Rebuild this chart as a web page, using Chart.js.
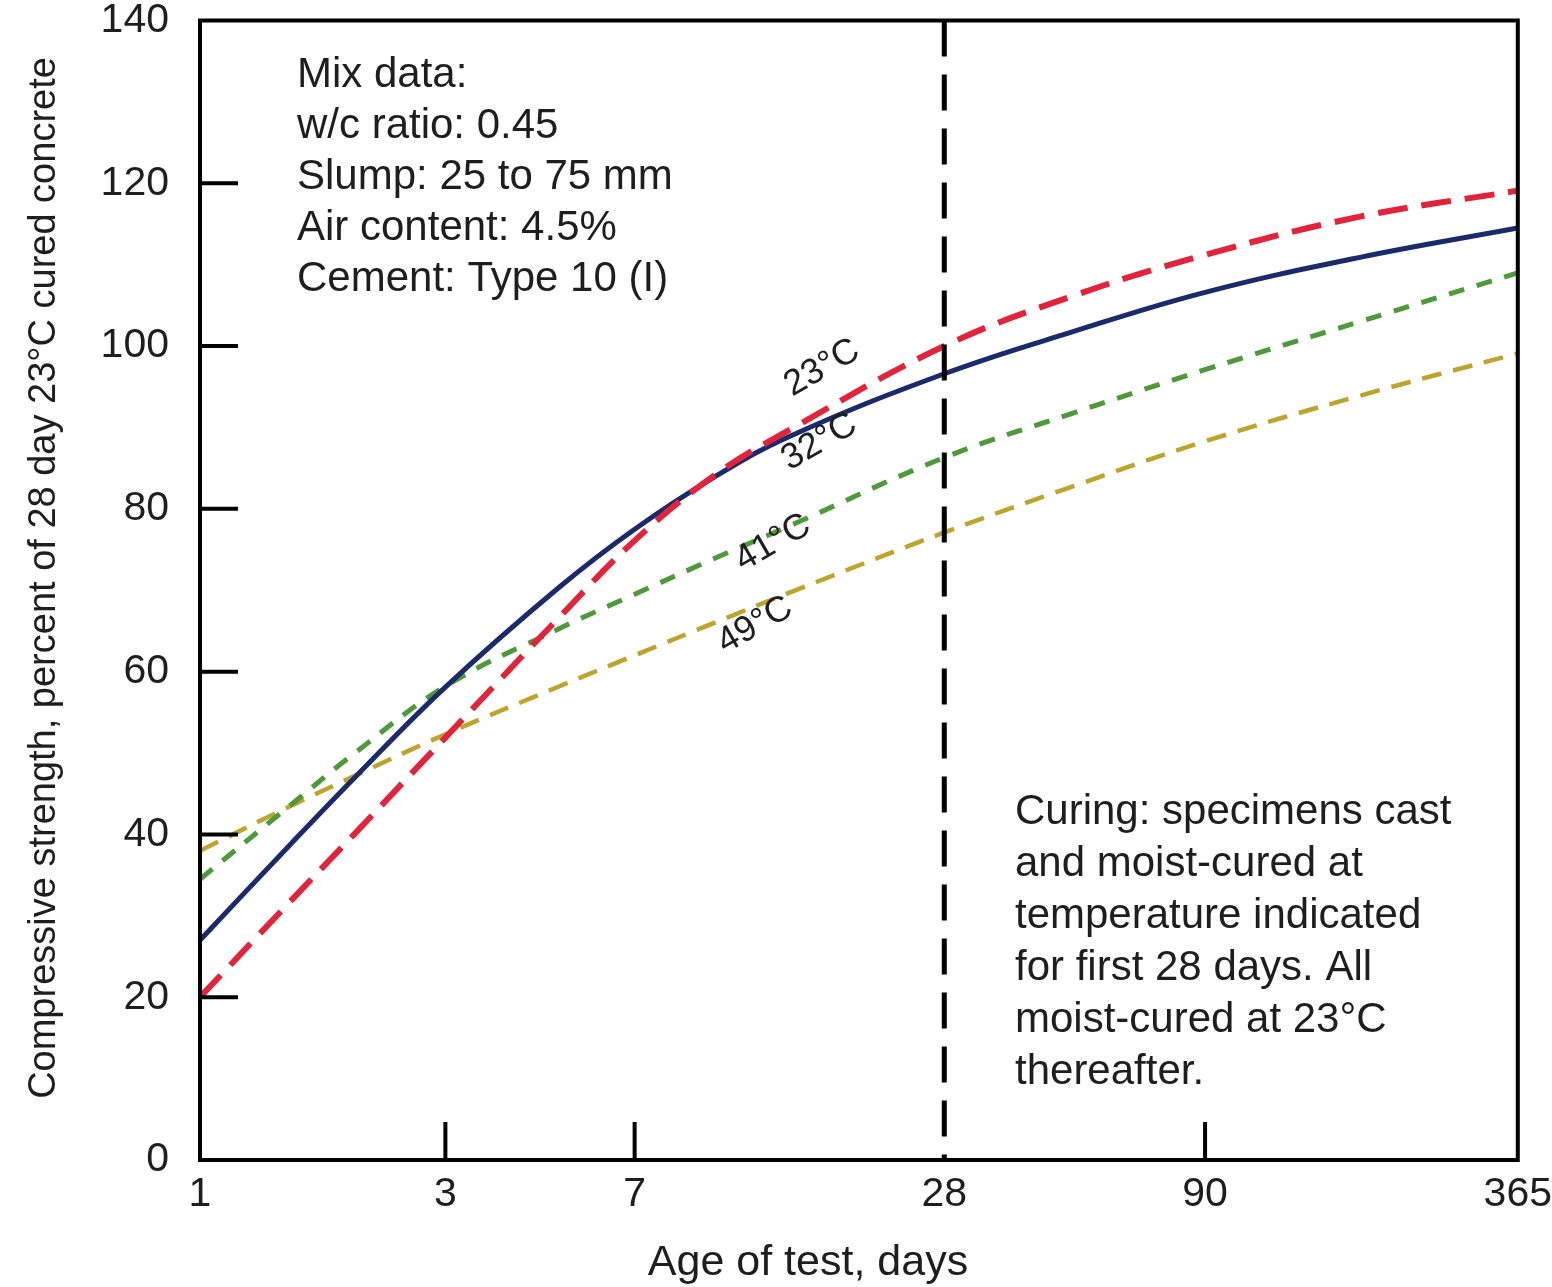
<!DOCTYPE html>
<html>
<head>
<meta charset="utf-8">
<script src="https://cdn.jsdelivr.net/npm/chart.js@4.4.1/dist/chart.umd.min.js"></script>
<style>
  html, body { margin: 0; padding: 0; background: #fff; }
  #wrap { width: 1552px; height: 1287px; position: relative; }
</style>
</head>
<body>
<div id="wrap"><canvas id="strengthChart"></canvas></div>
<script>
// Edad del ensayo (días) y resistencia (% de la de 28 días a 23°C)
const days = [1, 1.5, 2, 3, 5, 7, 10, 14, 28, 50, 90, 180, 365];
const strength23 = [20, 31.8, 40.1, 51.9, 66.7, 76.1, 84.1, 89.7, 100, 106.2, 111.2, 115.9, 119.1];
const strength32 = [27, 38.8, 47, 58.1, 70.4, 77.5, 83.9, 88.9, 96.6, 101.8, 106.6, 110.9, 114.5];
const strength41 = [34.5, 43.6, 50, 58.2, 65.3, 69.5, 73.9, 77.9, 86.3, 91.8, 97.1, 103, 109];
const strength49 = [38, 43.5, 47.2, 52.3, 58.2, 62, 66, 69.7, 77.1, 82.8, 88.3, 93.9, 99.1];

const xTicks = [1, 3, 7, 28, 90, 365];
const innerXTicks = [3, 7, 90];
const innerYTicks = [20, 40, 60, 80, 100, 120];
const curingDay = 28;

// etiquetas sobre las curvas (día, valor)
const curveLabels = ["23°C", "32°C", "41°C", "49°C"];
const labelDays = [16.2, 16.0, 13.0, 12.0];
const labelValues = [97.3, 88.2, 75.8, 65.7];

const mixNotes = ["Mix data:", "w/c ratio: 0.45", "Slump: 25 to 75 mm", "Air content: 4.5%", "Cement: Type 10 (I)"];
const curingNotes = ["Curing: specimens cast", "and moist-cured at", "temperature indicated",
    "for first 28 days. All", "moist-cured at 23°C", "thereafter."];

const xTitle = "Age of test, days";
const yTitle = "Compressive strength, percent of 28 day 23°C cured concrete";

const FONT = "'Liberation Sans', Arial, sans-serif";
const TEXT = "#1e1e1e";

function makeSeries(values, color, width, dash) {
    return {
        data: days.map((d, i) => ({ x: d, y: values[i] })),
        borderColor: color,
        borderWidth: width,
        borderDash: dash,
        pointRadius: 0,
        fill: false,
        tension: 0.4
    };
}

// Dibuja marco, marcas interiores, línea de 28 días y textos
const overlayPlugin = {
    id: "overlay",
    afterDatasetsDraw(chart) {
        const { ctx, chartArea: a, scales: { x, y } } = chart;
        ctx.save();
        ctx.strokeStyle = "#000";

        // línea discontinua a los 28 días
        const px28 = x.getPixelForValue(curingDay);
        ctx.lineWidth = 5;
        ctx.setLineDash([36, 18]);
        ctx.beginPath();
        ctx.moveTo(px28, a.top);
        ctx.lineTo(px28, a.bottom);
        ctx.stroke();
        ctx.setLineDash([]);

        // marcas hacia dentro
        ctx.lineWidth = 4;
        ctx.beginPath();
        innerYTicks.forEach(v => {
            const py = y.getPixelForValue(v);
            ctx.moveTo(a.left, py);
            ctx.lineTo(a.left + 38, py);
        });
        innerXTicks.forEach(v => {
            const px = x.getPixelForValue(v);
            ctx.moveTo(px, a.bottom);
            ctx.lineTo(px, a.bottom - 38);
        });
        ctx.stroke();

        // marco
        ctx.lineWidth = 4;
        ctx.strokeRect(a.left, a.top, a.right - a.left, a.bottom - a.top);

        // textos
        ctx.fillStyle = TEXT;
        ctx.textBaseline = "middle";
        ctx.textAlign = "left";
        ctx.font = "42px " + FONT;
        mixNotes.forEach((t, i) => ctx.fillText(t, 297, 75 + i * 51));
        curingNotes.forEach((t, i) => ctx.fillText(t, 1015, 812 + i * 52));

        // etiquetas de temperatura
        ctx.font = "36px " + FONT;
        ctx.textAlign = "center";
        curveLabels.forEach((t, i) => {
            ctx.save();
            ctx.translate(x.getPixelForValue(labelDays[i]), y.getPixelForValue(labelValues[i]));
            ctx.rotate(-30 * Math.PI / 180);
            ctx.fillText(t, 0, 0);
            ctx.restore();
        });

        // títulos de ejes
        ctx.font = "43px " + FONT;
        ctx.fillText(xTitle, 808, 1263);
        ctx.save();
        ctx.translate(45, 578);
        ctx.rotate(-Math.PI / 2);
        ctx.font = "38px " + FONT;
        ctx.fillText(yTitle, 0, 0);
        ctx.restore();

        ctx.restore();
    }
};

document.addEventListener("DOMContentLoaded", () => {
    const ctx = document.getElementById("strengthChart").getContext("2d");
    new Chart(ctx, {
        type: "line",
        data: {
            datasets: [
                makeSeries(strength23, "#e2233a", 6, [30, 14]),
                makeSeries(strength32, "#1b2a6b", 5, []),
                makeSeries(strength41, "#4e9a3a", 5, [16, 13]),
                makeSeries(strength49, "#bda42a", 4.5, [20, 12])
            ]
        },
        options: {
            responsive: true,
            maintainAspectRatio: false,
            animation: false,
            layout: { padding: { top: 20, right: 32, left: 0, bottom: 0 } },
            plugins: {
                legend: { display: false },
                tooltip: { enabled: false }
            },
            scales: {
                x: {
                    type: "logarithmic",
                    min: 1,
                    max: 365,
                    afterBuildTicks: scale => { scale.ticks = xTicks.map(v => ({ value: v })); },
                    afterFit: scale => { scale.height = 127; },
                    ticks: {
                        callback: v => String(v),
                        autoSkip: false,
                        maxRotation: 0,
                        padding: 0,
                        color: TEXT,
                        font: { family: FONT, size: 41, lineHeight: 1.0 }
                    },
                    // marcas invisibles: solo reservan la separación de las etiquetas
                    grid: { display: false, drawTicks: true, tickLength: 14 },
                    border: { display: false }
                },
                y: {
                    min: 0,
                    max: 140,
                    afterFit: scale => { scale.width = 200; },
                    ticks: {
                        stepSize: 20,
                        padding: 0,
                        color: TEXT,
                        font: { family: FONT, size: 41, lineHeight: 1.0 }
                    },
                    grid: { display: false, drawTicks: true, tickLength: 31 },
                    border: { display: false }
                }
            }
        },
        plugins: [overlayPlugin]
    });
});
</script>
</body>
</html>
